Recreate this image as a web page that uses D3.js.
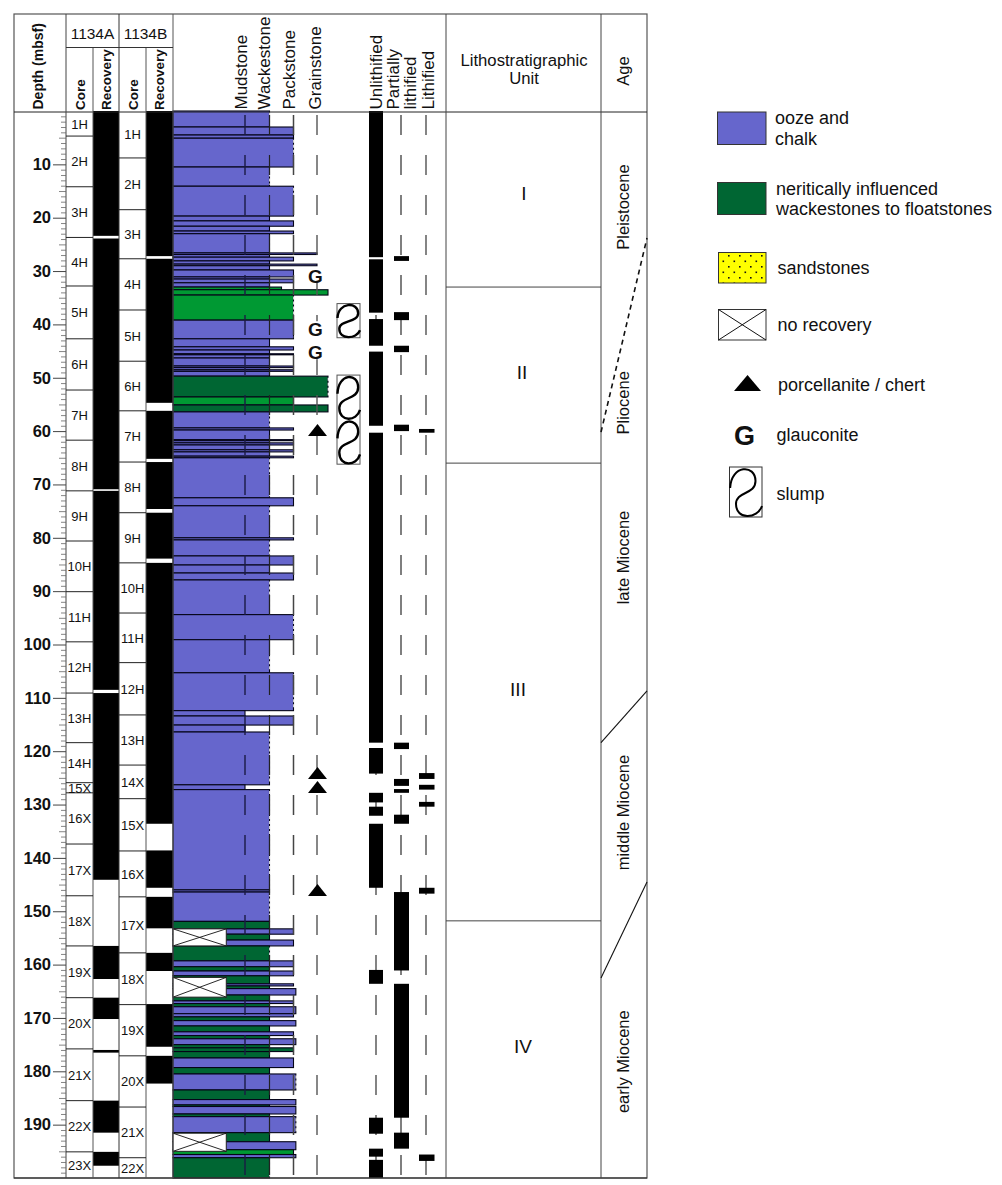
<!DOCTYPE html>
<html><head><meta charset="utf-8">
<style>
html,body{margin:0;padding:0;background:#fff}
svg{display:block}
text{font-family:"Liberation Sans",Arial,sans-serif;fill:#111}
</style>
<script src="https://cdn.jsdelivr.net/npm/d3@7/dist/d3.min.js"></script>
</head><body>
<svg id="c" width="1002" height="1185"></svg>
<script>
// ---------- data (depths in mbsf) ----------
const majorTicks = [10,20,30,40,50,60,70,80,90,100,110,120,130,140,150,160,170,180,190];
const coreANames = ["1H","2H","3H","4H","5H","6H","7H","8H","9H","10H","11H","12H","13H","14H","15X","16X","17X","18X","19X","20X","21X","22X","23X"];
const coreABases = [4.7,14.2,23.7,32.8,42.7,52.3,61.7,71.2,80.6,90.1,99.5,109.1,118.4,125.9,127.8,137.4,147.1,156.5,166.2,175.8,185.5,195.1,200];
const coreBNames = ["1H","2H","3H","4H","5H","6H","7H","8H","9H","10H","11H","12H","13H","14X","15X","16X","17X","18X","19X","20X","21X","22X"];
const coreBBases = [8.8,18.5,27.7,37.3,46.9,56.2,65.8,75.3,84.7,94.1,103.4,113.2,122.6,128.9,138.7,147.3,157.8,167.5,177.1,186.7,196.2,200];
const recoveryA = [[0,23.4],[23.9,70.9],[71.2,108.5],[109.1,144.1],[156.5,162.7],[166.2,170.2],[176,176.5],[185.5,191.5],[195.1,197.7]];
const recoveryB = [[0,27.2],[27.7,54.7],[56.2,65.2],[65.8,74.6],[75.3,83.9],[84.7,133.6],[138.6,145.6],[147.3,153.2],[157.8,161.2],[167.4,175.4],[177.1,182.3]];
// [top, base, lithology, texture]  o = ooze and chalk, n = neritic, b = neritic (bright)
const lithology = [
[0,3,"o",2],[3,4.5,"o",3],[4.5,5.1,"o",3],[5.1,10.5,"o",3],[10.5,14.1,"o",2],[14.1,19.7,"o",3],[19.7,20.6,"o",2],[20.6,21.6,"o",3],[21.6,22.5,"o",2],[22.5,23,"o",3],
[23,26.6,"o",2],[26.6,26.9,"o",4],[26.9,27.4,"o",2],[27.4,28.1,"o",3],[28.1,28.7,"o",2],[28.7,29,"o",4],[29,29.8,"o",2],[29.8,31.1,"o",3],[31.1,31.5,"o",2],[31.5,32.2,"o",3],[32.2,33,"o",2],
[33,33.5,"b",2.5],[33.5,34.5,"b",4.45],[34.5,39.2,"b",3],[39.2,42.7,"o",3],[42.7,44.2,"o",2],[44.2,44.8,"o",3],[44.8,45.5,"o",2],[45.5,45.7,"o",3],[45.7,46.3,"o",2],[46.3,47.8,"o",2],[47.8,48.1,"o",3],[48.1,48.5,"o",2],[48.5,48.8,"o",3],[48.8,49.7,"o",2],
[49.7,53.6,"n",4.45],[53.6,55.1,"b",3],[55.1,56.4,"n",4.45],[56.4,59.4,"o",2],[59.4,59.8,"o",3],[59.8,61.6,"o",2],[61.6,61.8,"o",3],[61.8,62.2,"o",2],[62.2,62.6,"o",3],[62.6,63.5,"o",2],[63.5,63.9,"o",3],[63.9,64.7,"o",2],[64.7,65,"o",3],
[65,72.5,"o",2],[72.5,74,"o",3],[74,80,"o",2],[80,80.4,"o",3],[80.4,83.4,"o",2],[83.4,85.1,"o",3],[85.1,86.6,"o",2],[86.6,87.9,"o",3],[87.9,94.4,"o",2],[94.4,99.1,"o",3],[99.1,105.3,"o",2],[105.3,112.4,"o",3],
[112.4,113.4,"o",1],[113.4,115.1,"o",3],[115.1,116.4,"o",1],[116.4,126.3,"o",2],[126.3,127.2,"o",1],[127.2,146,"o",2],[146,146.4,"o",2],[146.4,151.9,"o",2],
[151.9,153.3,"n",2],[153.3,154.3,"o",3],[154.3,155.4,"n",2],[155.4,156.5,"o",3],[156.5,159.3,"n",2],[159.3,160.4,"o",3],[160.4,161.2,"n",2],[161.2,162.1,"o",3],[162.1,163.6,"n",2],[163.6,164,"o",3],[164,164.5,"n",2],[164.5,165.7,"o",3.1],[165.7,166.8,"n",2],[166.8,167.3,"o",3],[167.3,167.9,"n",2],[167.9,169.2,"o",3.1],[169.2,169.8,"o",3],[169.8,170.5,"n",2],[170.5,171.5,"o",3.1],[171.5,172.6,"n",2],[172.6,173.3,"o",3],[173.3,173.9,"n",2],[173.9,175,"o",3.1],[175,175.6,"n",2],[175.6,176.3,"n",3],[176.3,177.5,"n",2],[177.5,179.3,"o",3],[179.3,180.5,"n",2],[180.5,183.5,"o",3.1],[183.5,185.3,"n",2],[185.3,186.3,"o",3.1],[186.3,186.6,"n",2],[186.6,188,"o",3.1],[188,188.5,"n",2],[188.5,191.5,"o",3.1],[191.5,193.2,"n",2],[193.2,194.7,"o",3.1],[194.7,195.6,"b",3],[195.6,196.2,"o",3.1],[196.2,200,"n",2]
];
const noRecovery = [[153.3,156.5],[162.4,166.1],[191.6,195]];
const unlithified = [[0,27.4],[27.8,37.8],[39,44],[45.1,59],[60.3,118.4],[119.4,124.2],[127.8,129.6],[130.4,132.1],[133.6,145.6],[161,163.6],[188.7,191.7],[194.5,196],[196.6,200]];
const partiallyLithified = [[27.2,28.1],[37.7,39.2],[44,45.2],[58.8,60],[118.4,119.6],[125.2,126.5],[127.1,127.8],[131.9,133.6],[146.4,161.1],[163.6,188.7],[191.5,194.5]];
const lithified = [[59.6,60.3],[124.1,125.2],[126.3,127.2],[129.5,130.4],[145.6,146.7],[195.6,196.8]];
const glauconite = [30.9,40.9,45.2];
const chert = [59.8,124.1,126.7,146];
const slumps = [[36.1,42.5,1],[49.5,66.2,2]];
const unitNames = ["I","II","III","IV"];
const unitLabelDepths = [15.0,48.6,108.1,175];
const unitBases = [33,66,151.8];
const ageNames = ["Pleistocene","Pliocene","late Miocene","middle Miocene","early Miocene"];
const ageLabelDepths = [18,54.7,83.7,131.5,178.2];
const ageBoundaries = [[60.2,23.8,true],[118.4,108.7,false],[162.5,144.5,false]];
const textureColumns = ["Mudstone","Wackestone","Packstone","Grainstone"];
const induration = ["Unlithified","Partially","lithified","Lithified"];
const legendBlocks = ["ooze and|chalk","neritically influenced|wackestones to floatstones"];

// ---------- scales ----------
const svg = d3.select("#c");
const y = d3.scaleLinear().domain([0,200]).range([111,1178]);
const tx = d3.scaleLinear().domain([0,1,2,3,4,4.45]).range([173,245,269.5,293.5,317,328]);
const fills = {o:"#6666cc",n:"#006633",b:"#009933"};
const cX = {frameL:14,depthR:66,aR:93,a2R:119,bR:146,b2R:173,uL:446,uR:601,aRight:647,top:14,sub:47.5,head:112,bot:1178};

svg.append("defs").append("pattern").attr("id","sand").attr("width",11).attr("height",11).attr("patternUnits","userSpaceOnUse")
  .call(p=>{p.append("rect").attr("width",11).attr("height",11).attr("fill","#ffff00");
    [[2,2],[7.5,7.5]].forEach(d=>p.append("rect").attr("x",d[0]).attr("y",d[1]).attr("width",1.6).attr("height",1.6).attr("fill","#111"));});

// ---------- dashed reference lines, under indurations ----------
const dashes = [[376,"#333",1.2],[401,"#555",1.5],[426,"#222",1.1]];
svg.append("g").selectAll("line").data(dashes).join("line")
  .attr("x1",d=>d[0]).attr("x2",d=>d[0]).attr("y1",y(0.75)).attr("y2",y(200))
  .attr("stroke",d=>d[1]).attr("stroke-width",d=>d[2]).attr("stroke-dasharray","20 20");

// ---------- recovery ----------
function bars(data,x0,x1,fill){
  svg.append("g").selectAll("rect").data(data).join("rect")
    .attr("x",x0).attr("width",x1-x0).attr("y",d=>y(d[0])).attr("height",d=>y(d[1])-y(d[0])).attr("fill",fill);
}
bars(recoveryA,cX.aR,cX.a2R,"#000");
bars(recoveryB,cX.bR,cX.b2R,"#000");

// ---------- lithology ----------
svg.append("g").selectAll("rect").data(lithology).join("rect")
  .attr("x",tx(0)).attr("y",d=>y(d[0])).attr("width",d=>tx(d[3])-tx(0)).attr("height",d=>y(d[1])-y(d[0]))
  .attr("fill",d=>fills[d[2]]).attr("stroke","#050518").attr("stroke-width",1.1);
// ragged right edge on the thicker beds
svg.append("g").selectAll("line").data(lithology.filter(d=>d[1]-d[0]>=2.5)).join("line")
  .attr("x1",d=>tx(d[3])+0.3).attr("x2",d=>tx(d[3])+0.3).attr("y1",d=>y(d[0])+1.5).attr("y2",d=>y(d[1])-1.5)
  .attr("stroke","#fff").attr("stroke-width",1.2).attr("stroke-dasharray","3 2");

// texture dashed lines on top
const texDash = [[1,"#1a1a45",1.4],[2,"#222",1.2],[3,"#444",1.5],[4,"#555",1.4]];
svg.append("g").selectAll("line").data(texDash).join("line")
  .attr("x1",d=>tx(d[0])).attr("x2",d=>tx(d[0])).attr("y1",y(0.75)).attr("y2",y(200))
  .attr("stroke",d=>d[1]).attr("stroke-width",d=>d[2]).attr("stroke-dasharray","20 20");

// no recovery boxes
const nr = svg.append("g").selectAll("g").data(noRecovery).join("g");
nr.append("rect").attr("x",tx(0)).attr("width",tx(0.74)-tx(0)).attr("y",d=>y(d[0])).attr("height",d=>y(d[1])-y(d[0]))
  .attr("fill","#fff").attr("stroke","#222").attr("stroke-width",1);
nr.append("path").attr("fill","none").attr("stroke","#111").attr("stroke-width",0.9)
  .attr("d",d=>`M${tx(0)},${y(d[0])}L${tx(0.74)},${y(d[1])}M${tx(0)},${y(d[1])}L${tx(0.74)},${y(d[0])}`);

// ---------- induration ----------
bars(unlithified,369,383,"#000");
bars(partiallyLithified,394,409,"#000");
bars(lithified,419,434.5,"#000");

// ---------- symbols ----------
const gText = (x,yy,size)=>svg.append("text").attr("x",x).attr("y",yy).attr("text-anchor","middle")
  .attr("font-size",size).attr("font-weight","bold").text("G");
glauconite.forEach(d=>{
  svg.append("rect").attr("x",306).attr("y",y(d)-8).attr("width",18).attr("height",15).attr("fill","#fff");
  gText(315.5,y(d)+7,19);
});
const tri=(cx,cy,w,h)=>svg.append("path").attr("fill","#000").attr("d",`M${cx-w/2},${cy+h/2}L${cx},${cy-h/2}L${cx+w/2},${cy+h/2}Z`);
chert.forEach(d=>tri(317.5,y(d),19,12));

const sCurve=(x0,y0,w,h,sw,r,l)=>{
  const X=v=>x0+v*w,Y=v=>y0+v*h;
  svg.append("path").attr("fill","none").attr("stroke","#000").attr("stroke-width",sw)
   .attr("d",`M${X(.02)},${Y(.42)}C${X(.05)},${Y(-.05)} ${X(r)},${Y(-.06)} ${X(r)},${Y(.28)}C${X(r)},${Y(.56)} ${X(l)},${Y(.48)} ${X(l)},${Y(.74)}C${X(l)},${Y(1.06)} ${X(.85)},${Y(1.05)} ${X(1)},${Y(.78)}`);
};
slumps.forEach(s=>{
  const t=y(s[0]),b=y(s[1]);
  svg.append("rect").attr("x",337).attr("y",t).attr("width",23).attr("height",b-t).attr("fill","#fff").attr("stroke","#555").attr("stroke-width",1);
  const h=(b-t)/s[2];
  d3.range(s[2]).forEach(i=>sCurve(337,t+i*h,23,h,2.4,.92,.1));
});

// ---------- frame ----------
const line=(x1,y1,x2,y2,c,w,dash)=>svg.append("line").attr("x1",x1).attr("y1",y1).attr("x2",x2).attr("y2",y2)
  .attr("stroke",c).attr("stroke-width",w).attr("stroke-dasharray",dash||null);
svg.append("rect").attr("x",cX.frameL).attr("y",cX.top).attr("width",cX.aRight-cX.frameL).attr("height",cX.bot-cX.top)
  .attr("fill","none").attr("stroke","#555").attr("stroke-width",1.2);
line(cX.frameL,cX.head,cX.aRight,cX.head,"#222",1);
line(cX.frameL,cX.bot,cX.aRight,cX.bot,"#222",1.2);
[[cX.depthR,"#444"],[cX.a2R,"#333"],[cX.b2R,"#555"],[cX.uL,"#444"],[cX.uR,"#444"]].forEach(d=>line(d[0],cX.top,d[0],cX.bot,d[1],1));
[cX.aR,cX.bR].forEach(x=>line(x,cX.sub,x,cX.bot,"#555",1));
line(cX.depthR,cX.sub,cX.b2R,cX.sub,"#333",1);

// ---------- core boundaries and labels ----------
function cores(names,bases,x0,x1,lx){
  const tops=[0].concat(bases);
  const g=svg.append("g");
  g.selectAll("line").data(bases.slice(0,-1)).join("line").attr("x1",x0).attr("x2",x1).attr("y1",d=>y(d)).attr("y2",d=>y(d)).attr("stroke","#222").attr("stroke-width",1);
  g.selectAll("text").data(names).join("text").attr("x",lx).attr("text-anchor","middle").attr("font-size",13)
    .attr("y",(d,i)=>(y(tops[i])+y(bases[i]))/2+5).text(d=>d);
}
cores(coreANames,coreABases,cX.depthR,cX.aR,79.5);
cores(coreBNames,coreBBases,cX.a2R,cX.bR,132.5);

// ---------- depth axis ----------
const minor = d3.axisLeft(y).tickValues(d3.range(1,200).filter(d=>d%10)).tickSize(5).tickFormat("");
svg.append("g").attr("transform",`translate(${cX.depthR},0)`).call(minor)
  .call(g=>{g.select(".domain").remove();g.selectAll("line").attr("stroke","#666").attr("stroke-width",0.8);
    g.selectAll(".tick").filter(d=>d%5===0).select("line").attr("x2",-7);});
const major = d3.axisLeft(y).tickValues(majorTicks).tickSize(13).tickPadding(2).tickFormat(d3.format("d"));
svg.append("g").attr("transform",`translate(${cX.depthR},0)`).call(major)
  .call(g=>{g.select(".domain").remove();g.selectAll("line").attr("stroke","#444").attr("stroke-width",1);
    g.selectAll("text").attr("font-family",null).style("font-family",'"Liberation Sans",Arial,sans-serif').attr("font-size",16.5).attr("font-weight","bold").attr("fill","#111");});

// ---------- unit + age columns ----------
svg.append("g").selectAll("line").data(unitBases).join("line").attr("x1",cX.uL).attr("x2",cX.uR).attr("y1",d=>y(d)).attr("y2",d=>y(d)).attr("stroke","#444").attr("stroke-width",1);
svg.append("g").selectAll("text").data(unitNames).join("text").attr("x",(d,i)=>[524,522,518,523][i]).attr("y",(d,i)=>y(unitLabelDepths[i])+8.5)
  .attr("text-anchor","middle").attr("font-size",19).text(d=>d);
ageBoundaries.forEach(d=>line(cX.uR,y(d[0]),cX.aRight,y(d[1]),"#111",d[2]?1.6:1.1,d[2]?"5 4":null));
const vtext=(x,yy,t,size,weight,anchor)=>svg.append("text").attr("transform",`translate(${x},${yy}) rotate(-90)`)
  .attr("text-anchor",anchor||"start").attr("font-size",size).attr("font-weight",weight||"normal").text(t);
ageNames.forEach((n,i)=>vtext(629,y(ageLabelDepths[i]),n,16.5,"normal","middle"));

// ---------- header ----------
vtext(43,109.5,"Depth (mbsf)",14,"bold");
[["1134A",92.5],["1134B",145.5]].forEach(d=>svg.append("text").attr("x",d[1]).attr("y",38.5).attr("text-anchor","middle").attr("font-size",15.5).text(d[0]));
[[84.5,"Core"],[110.5,"Recovery"],[137.5,"Core"],[163.5,"Recovery"]].forEach(d=>vtext(d[0],110,d[1],13.5,"bold"));
textureColumns.forEach((t,i)=>vtext([246.5,269.5,294.5,320.5][i],109.5,t,17));
induration.forEach((t,i)=>vtext([381.5,398.5,416,434][i],109.5,t,17));
svg.append("text").attr("x",524).attr("y",66).attr("text-anchor","middle").attr("font-size",16.7).text("Lithostratigraphic");
svg.append("text").attr("x",524).attr("y",84).attr("text-anchor","middle").attr("font-size",16.7).text("Unit");
vtext(629,71,"Age",16.5,"normal","middle");

// ---------- legend ----------
const ltext=(x,yy,t)=>svg.append("text").attr("x",x).attr("y",yy).attr("font-size",18).text(t);
const lrect=(x,yy,w,h,f)=>svg.append("rect").attr("x",x).attr("y",yy).attr("width",w).attr("height",h).attr("fill",f).attr("stroke","#333").attr("stroke-width",1);
lrect(717.5,112,48.5,32.5,fills.o);
legendBlocks[0].split("|").forEach((t,i)=>ltext(775,123.5+i*21,t));
lrect(717.5,182.5,48.5,32,fills.n);
legendBlocks[1].split("|").forEach((t,i)=>ltext(776,194.5+i*20.5,t));
lrect(718.5,252.5,47.5,30.5,"url(#sand)");
ltext(777.5,274,"sandstones");
lrect(718.5,309.5,47.5,30.5,"#fff");
line(718.5,309.5,766,340,"#111",1);line(718.5,340,766,309.5,"#111",1);
ltext(777.5,331,"no recovery");
tri(747.5,383,27,16);
ltext(778,391,"porcellanite / chert");
gText(744.5,445,27);
ltext(776.5,441,"glauconite");
svg.append("rect").attr("x",729.5).attr("y",467).attr("width",32.5).attr("height",50).attr("fill","#fff").attr("stroke","#333").attr("stroke-width",1);
sCurve(729.5,467,32.5,50,2,.8,.2);
ltext(776.5,500,"slump");
</script>
</body></html>
